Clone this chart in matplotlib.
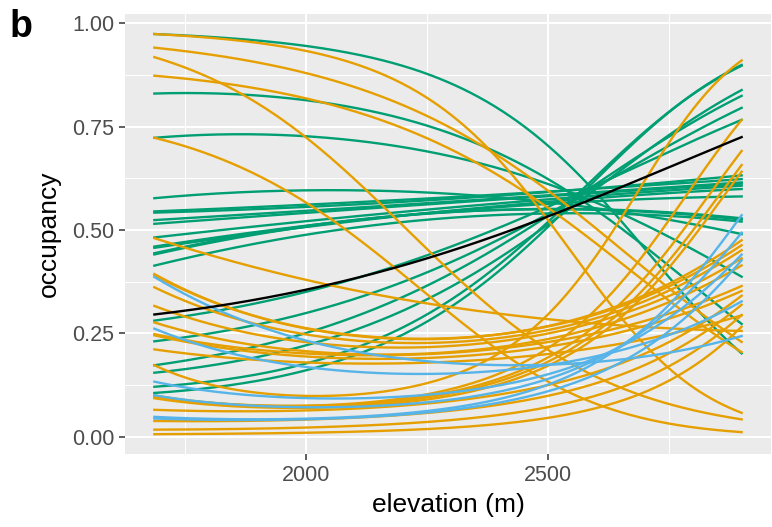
import numpy as np
import matplotlib
matplotlib.use("Agg")
import matplotlib.pyplot as plt

plt.rcParams['font.family'] = ['Liberation Sans', 'DejaVu Sans']

read_elev = [1687, 2200, 2550, 2899]

# occupancy readings at those elevations, one row per species curve
green_curves = [
    [0.974, 0.92, 0.57, 0.202],
    [0.830, 0.785, 0.56, 0.273],
    [0.723, 0.70, 0.59, 0.387],
    [0.577, 0.585, 0.57, 0.490],
    [0.106, 0.19, 0.66, 0.899],
    [0.121, 0.21, 0.66, 0.897],
    [0.155, 0.24, 0.65, 0.838],
    [0.173, 0.28, 0.65, 0.824],
    [0.231, 0.32, 0.64, 0.795],
    [0.281, 0.37, 0.64, 0.766],
    [0.542, 0.565, 0.60, 0.632],
    [0.545, 0.57, 0.60, 0.623],
    [0.524, 0.555, 0.595, 0.615],
    [0.515, 0.55, 0.595, 0.612],
    [0.482, 0.53, 0.595, 0.607],
    [0.457, 0.52, 0.59, 0.599],
    [0.460, 0.52, 0.585, 0.581],
    [0.441, 0.51, 0.58, 0.528],
    [0.444, 0.51, 0.58, 0.525],
    [0.414, 0.49, 0.575, 0.520],
]

orange_curves = [
    [0.974, 0.89, 0.35, 0.058],
    [0.941, 0.85, 0.45, 0.230],
    [0.918, 0.565, 0.14, 0.042],
    [0.873, 0.80, 0.42, 0.205],
    [0.723, 0.40, 0.10, 0.011],
    [0.480, 0.36, 0.25, 0.256],
    [0.393, 0.29, 0.22, 0.476],
    [0.390, 0.29, 0.22, 0.464],
    [0.361, 0.28, 0.21, 0.452],
    [0.316, 0.26, 0.21, 0.432],
    [0.276, 0.24, 0.20, 0.415],
    [0.248, 0.23, 0.20, 0.365],
    [0.245, 0.22, 0.19, 0.353],
    [0.211, 0.20, 0.18, 0.294],
    [0.173, 0.11, 0.38, 0.910],
    [0.100, 0.085, 0.28, 0.766],
    [0.098, 0.085, 0.24, 0.691],
    [0.096, 0.085, 0.22, 0.657],
    [0.093, 0.08, 0.21, 0.641],
    [0.065, 0.075, 0.14, 0.341],
    [0.038, 0.05, 0.12, 0.319],
    [0.017, 0.03, 0.09, 0.294],
    [0.006, 0.015, 0.06, 0.266],
]

blue_curves = [
    [0.386, 0.227, 0.14, 0.244],
    [0.261, 0.19, 0.14, 0.328],
    [0.133, 0.115, 0.14, 0.441],
    [0.100, 0.095, 0.13, 0.494],
    [0.048, 0.06, 0.14, 0.536],
    [0.044, 0.055, 0.125, 0.427],
]

community_curve = [0.296, 0.345, 0.64, 0.724]

x_ticks = [2000, 2500]
y_ticks = [0.00, 0.25, 0.50, 0.75, 1.00]
y_tick_labels = ["0.00", "0.25", "0.50", "0.75", "1.00"]


def smooth(vals):
    # smooth curve through the readings: quadratic fit in logit space,
    # pinned at the two ends
    e = np.array(read_elev, dtype=float)
    t = (e - 2293.0) / 606.0
    v = np.array(vals, dtype=float)
    coef = np.polyfit(t, np.log(v / (1 - v)), 2, w=[6, 1, 1, 6])
    xe = np.linspace(e[0], e[-1], 300)
    z = np.polyval(coef, (xe - 2293.0) / 606.0)
    return xe, 1 / (1 + np.exp(-z))


fig = plt.figure(figsize=(7.72, 5.27), dpi=100)
ax = fig.add_axes([125 / 772, 1 - 454.3 / 527, (771 - 125) / 772, (454.3 - 14) / 527])
ax.set_facecolor("#EBEBEB")

lw = 1.7
for c in green_curves:
    ax.plot(*smooth(c), color="#009E73", lw=lw, zorder=3)
for c in orange_curves:
    ax.plot(*smooth(c), color="#E69F00", lw=lw, zorder=4)
for c in blue_curves:
    ax.plot(*smooth(c), color="#56B4E9", lw=lw, zorder=5)
ax.plot(*smooth(community_curve), color="black", lw=lw, zorder=6)

ax.set_xlim(1626.4, 2959.6)
ax.set_ylim(-0.0426, 1.0225)
ax.set_xticks(x_ticks)
ax.set_xticks([1750, 2250, 2750], minor=True)
ax.set_yticks(y_ticks)
ax.set_yticklabels(y_tick_labels)
ax.set_yticks([0.125, 0.375, 0.625, 0.875], minor=True)

ax.grid(which="major", color="white", lw=1.5, zorder=1)
ax.grid(which="minor", color="white", lw=0.75, zorder=1)
ax.set_axisbelow(True)
for s in ax.spines.values():
    s.set_visible(False)

ax.tick_params(which="major", length=4.5, width=1.1, color="#333333",
               labelsize=15.5, labelcolor="#4D4D4D", pad=3)
ax.tick_params(which="minor", length=0)

ax.set_xlabel("elevation (m)", fontsize=19, labelpad=5)
ax.set_ylabel("occupancy", fontsize=19, labelpad=8)

fig.text(10 / 772, 1 - 37 / 527, "b", fontsize=27, fontweight="bold")

fig.savefig("out.png", dpi=100)
